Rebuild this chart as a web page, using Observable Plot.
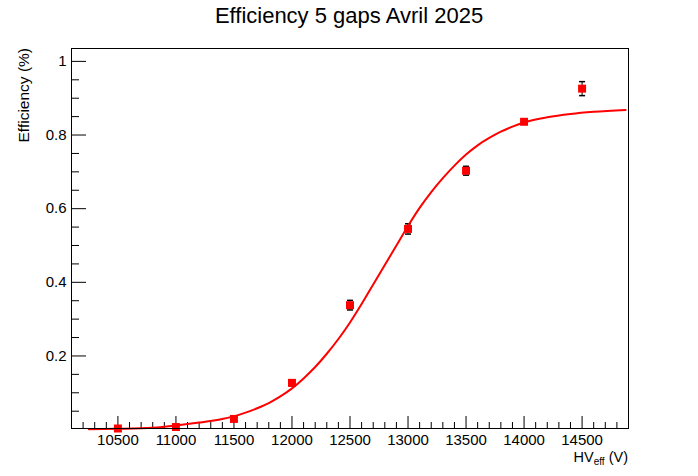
<!DOCTYPE html>
<html><head><meta charset="utf-8">
<script src="https://cdn.jsdelivr.net/npm/d3@7"></script>
<script src="https://cdn.jsdelivr.net/npm/@observablehq/plot@0.6"></script>
<style>
html,body{margin:0;padding:0;background:#fff;}
#title{width:698px;height:40px;box-sizing:border-box;padding-top:5px;text-align:center;font:22px/22px "Liberation Sans",Arial,sans-serif;color:#000;white-space:nowrap;}
#chart svg{display:block;}
</style></head><body>
<div id="title"></div>
<div id="chart"></div>
<script>
// ---- data ----
const titleText = "Efficiency 5 gaps Avril 2025";
const yLabel = "Efficiency (%)";
const xLabelMain = "HV";
const xLabelSub = "eff";
const xLabelUnit = "\u00a0(V)";

const hv     = [10500, 11000, 11500, 12000, 12500, 13000, 13500, 14000, 14500];
const eff    = [0.003, 0.007, 0.029, 0.127, 0.338, 0.545, 0.703, 0.836, 0.926];
const effErr = [0.003, 0.004, 0.006, 0.008, 0.013, 0.014, 0.012, 0.007, 0.019];

const fitHV  = [10250, 10500, 10800, 11000, 11200, 11400, 11500, 11600, 11700, 11800, 11900, 12000,
                12100, 12200, 12300, 12400, 12500, 12600, 12700, 12800, 12900, 13000, 13100, 13200,
                13300, 13400, 13500, 13600, 13700, 13800, 13900, 14000, 14200, 14400, 14600, 14875];
const fitEff = [0.001, 0.002, 0.005, 0.011, 0.019, 0.029, 0.036, 0.046, 0.058, 0.072, 0.090, 0.112,
                0.139, 0.170, 0.206, 0.246, 0.291, 0.341, 0.394, 0.447, 0.500, 0.553, 0.602, 0.645,
                0.683, 0.717, 0.747, 0.772, 0.792, 0.809, 0.823, 0.834, 0.848, 0.857, 0.863, 0.868];

const xTicks      = [10500, 11000, 11500, 12000, 12500, 13000, 13500, 14000, 14500];
const xTickLabels = ["10500", "11000", "11500", "12000", "12500", "13000", "13500", "14000", "14500"];
const yTicks      = [0.2, 0.4, 0.6, 0.8, 1];
const yTickLabels = ["0.2", "0.4", "0.6", "0.8", "1"];
const xDomain = [10100, 14900];
const yDomain = [0.003, 1.035];

// minor tick positions (every 100 V, every 0.05)
const xMinorTicks = d3.range(10200, 14900, 100).filter(v => v % 500 !== 0);
const yMinorTicks = d3.range(1, 20).map(i => i * 0.05).filter((v, i) => (i + 1) % 4 !== 0);

// ---- tables ----
const points = hv.map((x, i) => ({hv: x, eff: eff[i], err: effErr[i]}));
const fit = fitHV.map((x, i) => ({hv: x, eff: fitEff[i]}));

document.getElementById("title").textContent = titleText;

const W = 698, H = 436;
const mL = 71, mR = 70, mT = 8, mB = 48;
const fw = W - mL - mR, fh = H - mT - mB;
const cap = {draw(ctx, size) { const r = Math.sqrt(size / Math.PI); ctx.moveTo(-r, 0); ctx.lineTo(r, 0); }};
const font = '"Liberation Sans", Arial, sans-serif';

const plot = Plot.plot({
  width: W, height: H,
  marginLeft: mL, marginRight: mR, marginTop: mT, marginBottom: mB,
  style: {fontFamily: font, fontSize: "15px", color: "#000", background: "#fff", overflow: "visible"},
  x: {domain: xDomain},
  y: {domain: yDomain},
  marks: [
    Plot.tickX(xMinorTicks, {x: d => d, insetTop: fh - 6, stroke: "#000"}),
    Plot.tickX(xTicks, {x: d => d, insetTop: fh - 12, stroke: "#000"}),
    Plot.tickY(yMinorTicks, {y: d => d, insetRight: fw - 8, stroke: "#000"}),
    Plot.tickY(yTicks, {y: d => d, insetRight: fw - 15, stroke: "#000"}),
    Plot.axisX({ticks: xTicks, tickSize: 0, tickPadding: 6, fontSize: 15, label: null,
                tickFormat: d => xTickLabels[xTicks.indexOf(d)]}),
    Plot.axisY({ticks: yTicks, tickSize: 0, tickPadding: 5, fontSize: 15, label: null,
                tickFormat: d => yTickLabels[yTicks.indexOf(d)]}),
    Plot.ruleX(points, {x: "hv", y1: d => d.eff - d.err, y2: d => d.eff + d.err, stroke: "#000", strokeWidth: 1}),
    Plot.dot(points, {x: "hv", y: d => d.eff + d.err, symbol: cap, r: 3, stroke: "#000", fill: "none"}),
    Plot.dot(points, {x: "hv", y: d => d.eff - d.err, symbol: cap, r: 3, stroke: "#000", fill: "none"}),
    Plot.dot(points, {x: "hv", y: "eff", symbol: "square", r: 4.5, fill: "#ff0000", stroke: "none"}),
    Plot.line(fit, {x: "hv", y: "eff", stroke: "#ff0000", strokeWidth: 2, curve: "monotone-x"}),
    Plot.frame({stroke: "#000", strokeWidth: 1})
  ]
});

const svg = d3.select(plot);
svg.append("text")
  .attr("transform", `translate(28.5,${mT}) rotate(-90)`)
  .attr("text-anchor", "end")
  .attr("font-size", 15.5)
  .attr("fill", "#000")
  .text(yLabel);
const xl = svg.append("text")
  .attr("x", W - mR)
  .attr("y", H - 14.5)
  .attr("text-anchor", "end")
  .attr("font-size", 14.5)
  .attr("fill", "#000");
xl.append("tspan").text(xLabelMain);
xl.append("tspan").attr("font-size", 10).attr("dy", 3).text(xLabelSub);
xl.append("tspan").attr("dy", -3).text(xLabelUnit);

document.getElementById("chart").appendChild(plot);
</script>
</body></html>
